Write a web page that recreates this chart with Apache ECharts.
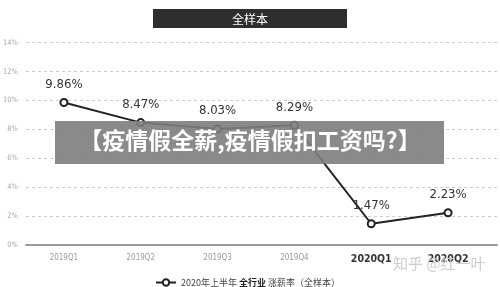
<!DOCTYPE html>
<html><head><meta charset="utf-8">
<script src="https://cdn.jsdelivr.net/npm/echarts@6/dist/echarts.min.js"></script>
<style>html,body{margin:0;padding:0;background:#fff}#c{width:500px;height:287px}</style>
</head><body><div id="c"></div>
<script>
const categories = ['2019Q1','2019Q2','2019Q3','2019Q4','2020Q1','2020Q2'];
const raiseRate = [9.86, 8.47, 8.03, 8.29, 1.47, 2.23];
const yTicks = [0, 2, 4, 6, 8, 10, 12, 14];
const seriesName = '2020年上半年 全行业 涨薪率（全样本）';
const titleText = '全样本';
const bannerText = '【疫情假全薪,疫情假扣工资吗?】';
const watermark = '知乎 @红一叶';

const chart = echarts.init(document.getElementById('c'));
const narrow = '"Liberation Sans Narrow", "DejaVu Sans Condensed", sans-serif';
const cjk = '"Noto Sans CJK SC", sans-serif';
chart.setOption({
  animation: false,
  title: {
    text: titleText, left: 'center', top: 9,
    backgroundColor: '#2e2e2e', padding: [4, 79, 3, 79],
    textStyle: {color: '#fff', fontSize: 12, fontWeight: 'normal', fontFamily: cjk}
  },
  grid: [
    {left: 25, right: 3, top: 42.7, bottom: 42},
    {left: 25.5, right: 13.5, top: 42.7, bottom: 42}
  ],
  xAxis: [
    {type: 'category', gridIndex: 0, data: [''], axisLine: {lineStyle: {color: '#999', width: 2}},
      axisTick: {show: false}, axisLabel: {show: false}},
    {type: 'category', gridIndex: 1, data: categories, axisLine: {show: false}, axisTick: {show: false},
      axisLabel: {
        interval: 0, margin: 9,
        formatter: (v) => v.startsWith('2020') ? '{b|' + v + '}' : '{a|' + v + '}',
        rich: {
          a: {fontSize: 8, color: '#999', fontFamily: narrow},
          b: {fontSize: 10.5, color: '#333', fontWeight: 'bold', fontFamily: narrow}
        }
      }}
  ],
  yAxis: [
    {type: 'value', gridIndex: 0, min: yTicks[0], max: yTicks[yTicks.length - 1], interval: 2,
      axisLine: {show: false}, axisTick: {show: false},
      axisLabel: {formatter: '{value}%', fontSize: 7.5, color: '#aaa', margin: 8, fontFamily: narrow},
      splitLine: {lineStyle: {type: [3, 3], color: '#ccc', width: 1}}},
    {type: 'value', gridIndex: 1, min: yTicks[0], max: yTicks[yTicks.length - 1], interval: 2, show: false,
      splitLine: {show: false}}
  ],
  legend: {
    top: 273, left: 150, itemWidth: 20, itemHeight: 8, itemGap: 5,
    data: [seriesName],
    formatter: () => '{a|2020年上半年 }{b|全行业}{a| 涨薪率（全样本）}',
    textStyle: {
      rich: {
        a: {fontSize: 9, color: '#444', fontFamily: cjk},
        b: {fontSize: 9, color: '#222', fontWeight: 'bold', fontFamily: cjk}
      }
    }
  },
  series: [{
    name: seriesName, type: 'line', xAxisIndex: 1, yAxisIndex: 1, data: raiseRate,
    symbol: 'circle', symbolSize: 7,
    lineStyle: {color: '#222', width: 2},
    itemStyle: {color: '#fff', borderColor: '#222', borderWidth: 2},
    label: {show: true, position: 'top', distance: 7, formatter: (p) => p.value.toFixed(2) + '%',
      fontSize: 13, color: '#333', fontFamily: narrow},
    z: 3
  }],
  graphic: [
    {type: 'rect', left: 55, top: 121, shape: {width: 389, height: 43}, z: 100,
      style: {fill: 'rgba(125,125,125,0.9)'}},
    {type: 'text', left: 'center', top: 129, z: 101,
      style: {text: bannerText, fill: '#fff', fontSize: 23, fontWeight: 'bold', fontFamily: cjk}},
    {type: 'text', left: 393, top: 256, z: 101,
      style: {text: watermark, fill: '#ccc', fontSize: 15, fontFamily: cjk}}
  ]
});
</script></body></html>
